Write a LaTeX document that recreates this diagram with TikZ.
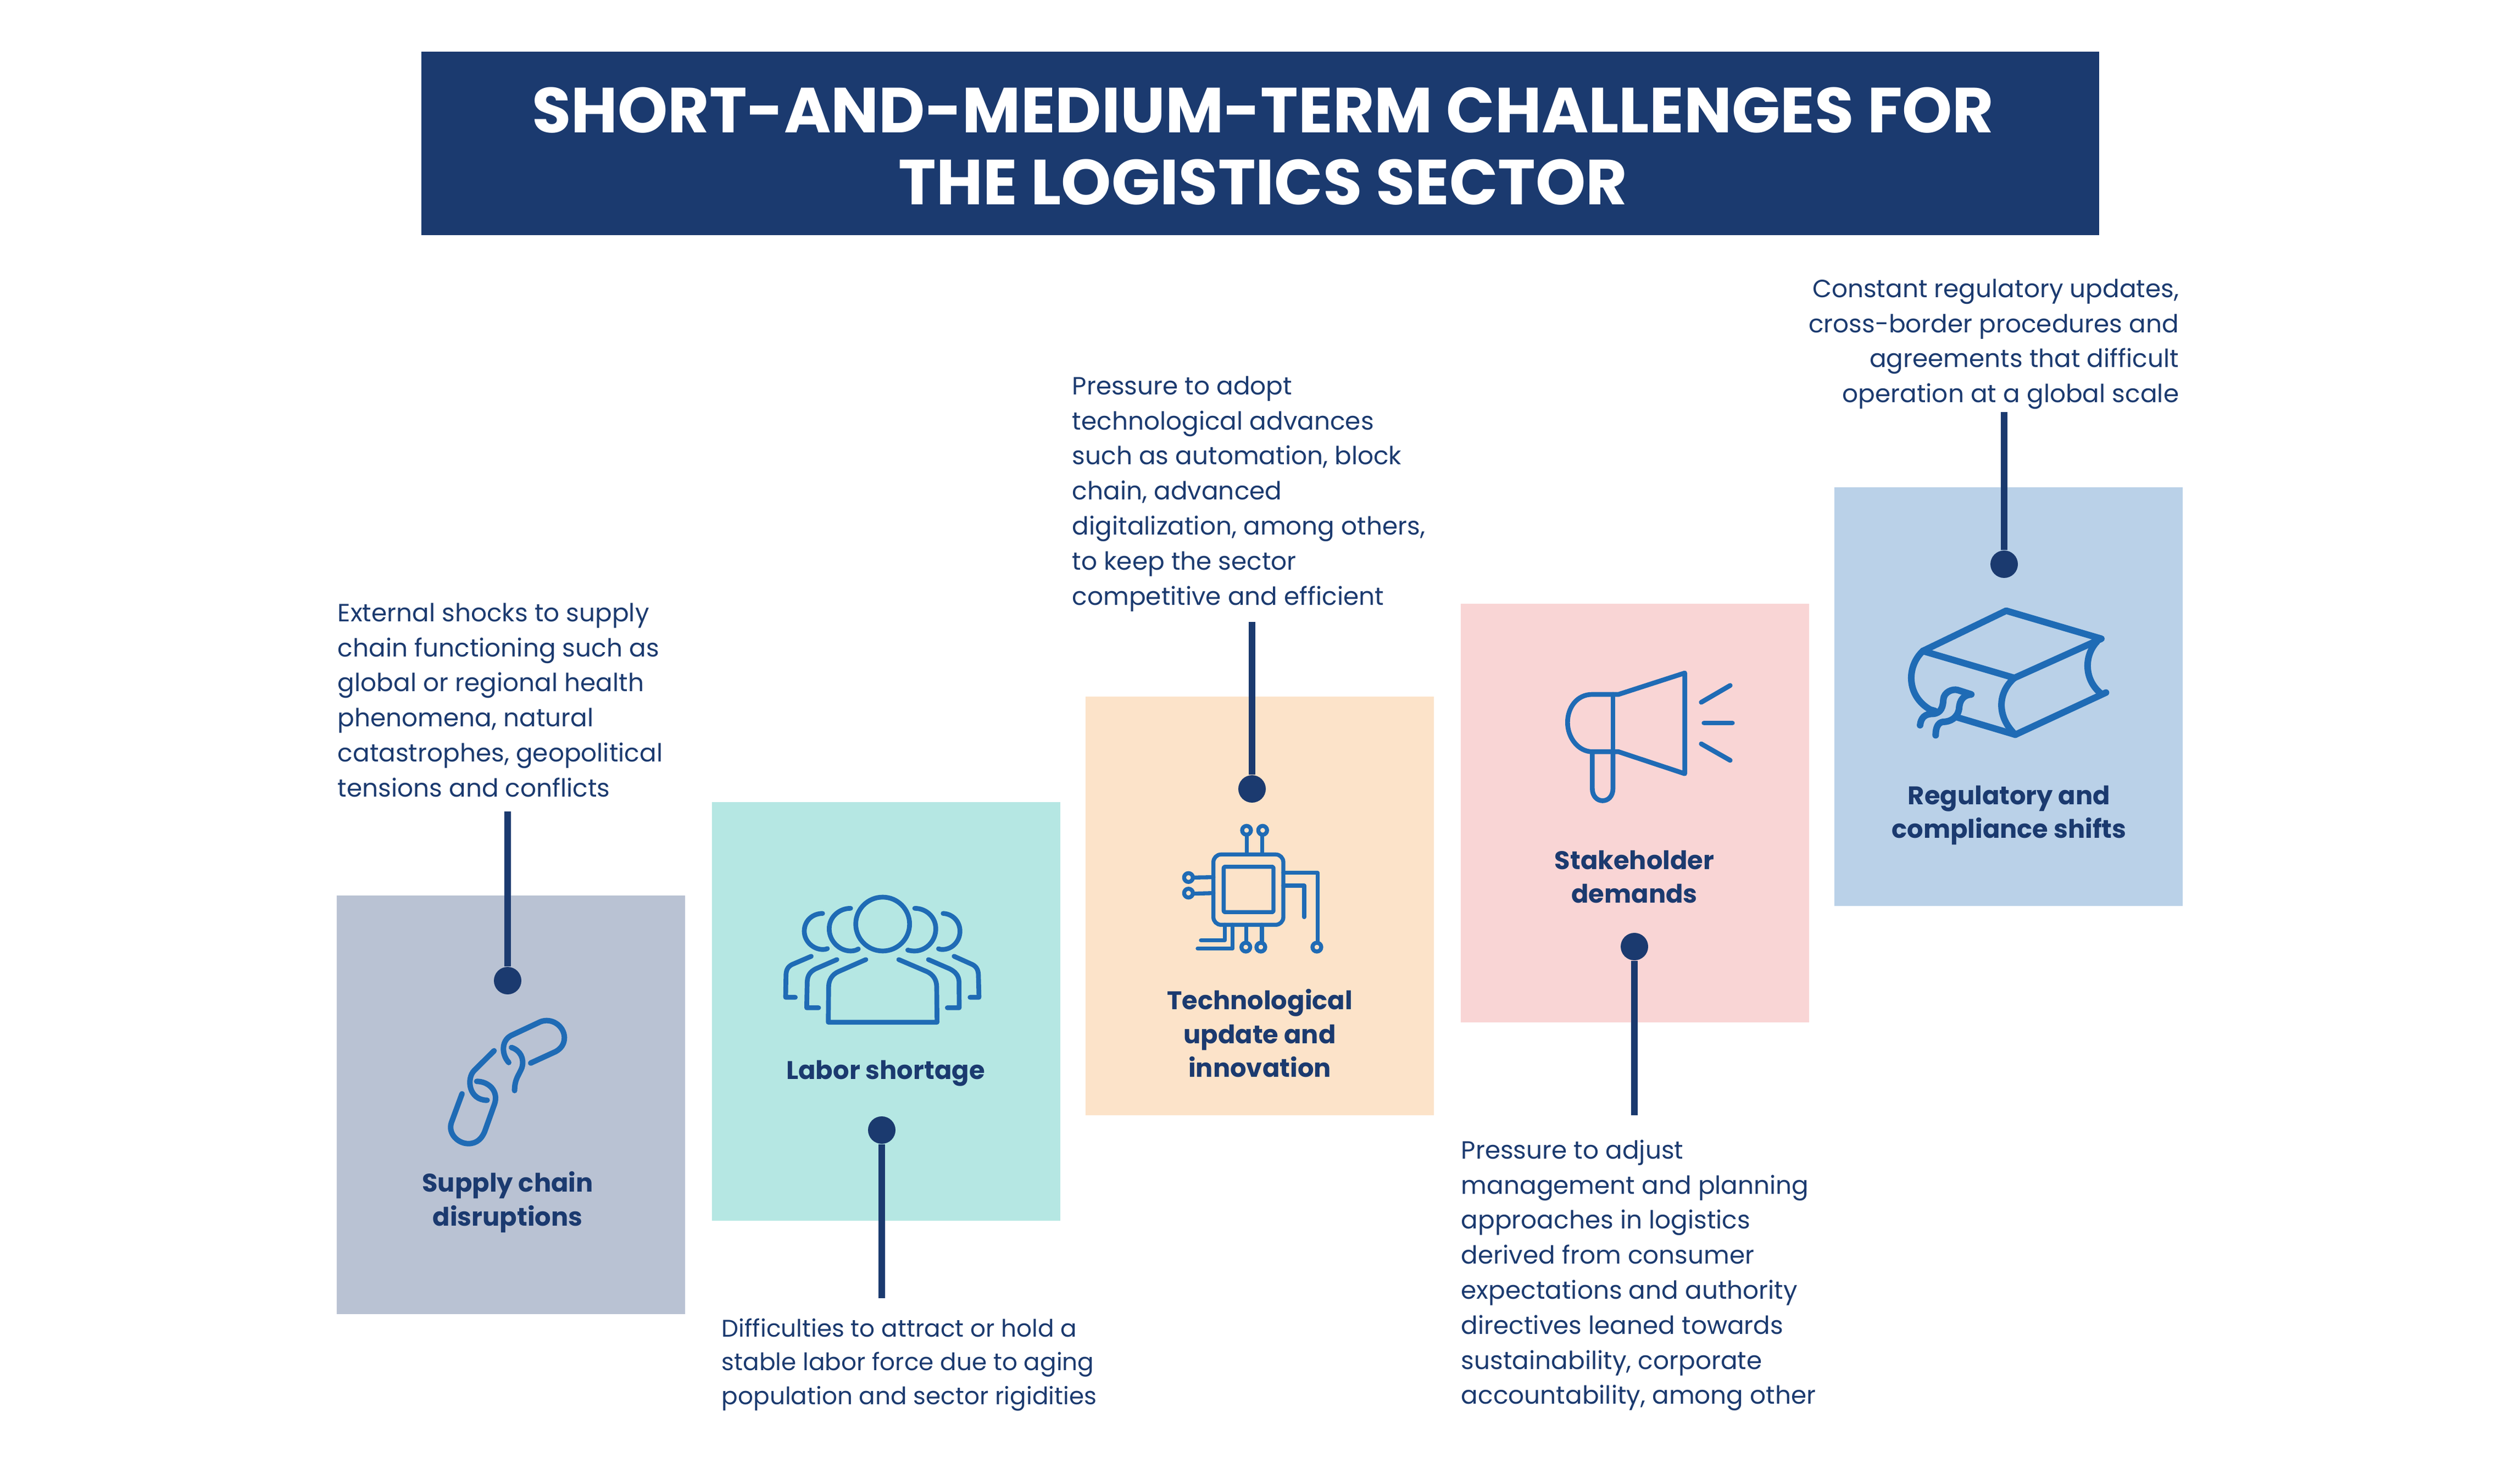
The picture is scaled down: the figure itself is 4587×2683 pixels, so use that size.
\documentclass[tikz,border=0pt]{standalone}
\usepackage{fontspec}
\setmainfont{Poppins}
\usepackage{xcolor}
\usetikzlibrary{positioning}
\definecolor{navy}{HTML}{1B3A6F}
\definecolor{iconblue}{HTML}{1F6BB5}
\definecolor{greybox}{HTML}{B9C2D3}
\definecolor{tealbox}{HTML}{B5E7E3}
\definecolor{peachbox}{HTML}{FCE3C9}
\definecolor{pinkbox}{HTML}{F9D5D5}
\definecolor{bluebox}{HTML}{BAD1E8}
\tikzset{
  colorbox/.style={minimum width=158.5pt, minimum height=190.5pt, inner sep=0pt, anchor=north west},
  bodytext/.style={text=navy, inner sep=0pt, align=left, anchor=north west, font=\fontsize{11.35}{15.95}\selectfont},
  boldlabel/.style={text=navy, inner sep=0pt, align=center, font=\fontsize{11.6}{15.4}\selectfont\bfseries},
  pindot/.style={circle, fill=navy, inner sep=0pt, minimum size=12.5pt},
  pinline/.style={draw=navy, line width=3pt},
  iconline/.style={draw=iconblue, line cap=round, line join=round}
}
\begin{document}
\begin{tikzpicture}[x=0.25pt, y=-0.25pt]
  \useasboundingbox (0,0) rectangle (4587,2683);
  \path node[fill=navy, anchor=north west, inner sep=0pt,
             minimum width=763.5pt, minimum height=83.5pt] at (766,93) (titlebar) {};
  \node[text=white, align=center, inner sep=0pt,
        font=\fontsize{29}{32.9}\selectfont\bfseries] at (2299,266) (title)
       {SHORT-AND-MEDIUM-TERM CHALLENGES FOR\\THE LOGISTICS SECTOR};

  \path node[colorbox, fill=greybox] at (612,1629) (box1) {};
  \path node[colorbox, fill=tealbox] at (1295,1459) (box2) {};
  \path node[colorbox, fill=peachbox] at (1975,1267) (box3) {};
  \path node[colorbox, fill=pinkbox] at (2658,1098) (box4) {};
  \path node[colorbox, fill=bluebox] at (3338,886) (box5) {};

  \node[boldlabel] at (924,2188) (label1) {Supply chain\\disruptions};
  \node[boldlabel] at (1612,1954) (label2) {Labor shortage};
  \node[boldlabel] at (2293,1881) (label3) {Technological\\update and\\innovation};
  \node[boldlabel] at (2975,1596) (label4) {Stakeholder\\demands};
  \node[boldlabel] at (3657,1484) (label5) {Regulatory and\\compliance shifts};

  \node[bodytext] at (614,1097) (text1) {External shocks to supply\\chain functioning such as\\global or regional health\\phenomena, natural\\catastrophes, geopolitical\\tensions and conflicts};
  \node[bodytext, font=\fontsize{10.95}{15.4}\selectfont] at (1313,2399) (text2) {Difficulties to attract or hold a\\stable labor force due to aging\\population and sector rigidities};
  \node[bodytext] at (1951,684) (text3) {Pressure to adopt\\technological advances\\such as automation, block\\chain, advanced\\digitalization, among others,\\to keep the sector\\competitive and efficient};
  \node[bodytext] at (2659,2074) (text4) {Pressure to adjust\\management and planning\\approaches in logistics\\derived from consumer\\expectations and authority\\directives leaned towards\\sustainability, corporate\\accountability, among other};
  \node[bodytext, align=right, anchor=north east] at (3967,507) (text5) {Constant regulatory updates,\\cross-border procedures and\\agreements that difficult\\operation at a global scale};

  \node[pindot] at (924,1785) (dot1) {};
  \node[pindot] at (1605,2057) (dot2) {};
  \node[pindot] at (2279,1436) (dot3) {};
  \node[pindot] at (2975,1723) (dot4) {};
  \node[pindot] at (3648,1027) (dot5) {};
  \coordinate (end1) at (924,1477);
  \coordinate (end2) at (1605,2363);
  \coordinate (end3) at (2279,1132);
  \coordinate (end4) at (2975,2030);
  \coordinate (end5) at (3648,750);
  \foreach \i in {1,...,5}
    \draw[pinline] (end\i) -- (dot\i);

  \begin{scope}[shift={(780,1820)}, scale=1/3, iconline, line width=2.5pt]
    \draw (183,513) -- (125,670) .. controls (105,730) and (160,785) .. (218,785) .. controls (265,785) and (295,755) .. (310,710) -- (360,570) .. controls (385,500) and (330,445) .. (263,445);
    \draw (358,278) -- (250,385) .. controls (205,430) and (220,548) .. (320,548);
    \draw (438,342) .. controls (400,300) and (395,225) .. (450,195) -- (610,120) .. controls (670,95) and (740,140) .. (742,205) .. controls (742,240) and (725,265) .. (695,282) -- (558,345);
    \draw (453,260) .. controls (500,275) and (525,320) .. (510,370) .. controls (495,410) and (470,430) .. (470,495);
  \end{scope}

  \begin{scope}[shift={(1400,1600)}, scale=1/3, iconline, line width=2.17pt]
    \draw (620,246) circle[radius=147];
    \draw (528,440) -- (380,505) .. controls (345,520) and (325,550) .. (325,590) -- (323,782) -- (917,782) -- (915,590) .. controls (915,550) and (895,520) .. (860,505) -- (708,440);
    \draw (445,160) .. controls (385,160) and (328,205) .. (328,272) .. controls (328,340) and (385,393) .. (445,393) .. controls (460,393) and (475,390) .. (487,382);
    \draw (795,160) .. controls (855,160) and (910,205) .. (910,272) .. controls (910,340) and (855,393) .. (795,393) .. controls (785,393) and (770,392) .. (757,388);
    \draw (292,188) .. controls (240,188) and (192,225) .. (192,285) .. controls (192,340) and (240,385) .. (295,385) .. controls (305,385) and (312,383) .. (318,380);
    \draw (950,188) .. controls (1000,190) and (1042,230) .. (1042,285) .. controls (1042,340) and (1000,385) .. (945,385) .. controls (940,385) and (932,384) .. (925,381);
    \draw (370,440) -- (255,490) .. controls (225,505) and (210,525) .. (208,560) -- (205,703) -- (270,703);
    \draw (870,440) -- (985,490) .. controls (1015,505) and (1035,525) .. (1037,560) -- (1038,703) -- (973,703);
    \draw (230,422) -- (125,467) .. controls (100,480) and (92,500) .. (92,530) -- (90,646) -- (143,646);
    \draw (1010,422) -- (1110,467) .. controls (1135,480) and (1143,500) .. (1143,530) -- (1146,646) -- (1097,646);
  \end{scope}

  \begin{scope}[shift={(2130,1480)}, scale=1/3, iconline, line width=1.83pt]
    \draw[rounded corners=3.5pt] (236,226) rectangle (618,610);
    \draw[rounded corners=0.6pt] (292,293) rectangle (564,541);
    \foreach \px/\py in {417/94,505/94,100/352,100/437,801/732,413/732,495/732}
      \draw (\px,\py) circle[radius=24];
    \draw (418,226) -- (418,118);
    \draw (503,226) -- (503,118);
    \draw (236,350) -- (124,352);
    \draw (236,437) -- (124,440);
    \draw (618,326) -- (805,326) -- (805,708);
    \draw (618,396) -- (732,396) -- (732,568);
    \draw (298,610) -- (298,695) -- (168,695);
    \draw (341,610) -- (341,740) -- (150,740);
    \draw (416,610) -- (416,708);
    \draw (501,610) -- (501,708);
  \end{scope}

  \begin{scope}[shift={(2820,1200)}, scale=1/3, iconline, line width=2.17pt]
    \draw (740,75) -- (378,192) -- (235,192) .. controls (150,192) and (100,265) .. (100,345) .. controls (100,430) and (160,505) .. (235,505) -- (378,505) -- (740,625) -- cycle;
    \draw (348,192) -- (348,505);
    \draw (235,505) -- (235,705) .. controls (235,795) and (348,795) .. (348,705) -- (348,505);
    \draw (830,235) -- (988,143);
    \draw (845,348) -- (1000,348);
    \draw (830,462) -- (988,552);
  \end{scope}

  \begin{scope}[shift={(3450,1090)}, scale=1/3, iconline, line width=3pt]
    \draw (150,285) -- (605,65) -- (1125,218) -- (650,432) -- cycle;
    \draw (150,285) .. controls (60,370) and (60,530) .. (190,605) -- (215,612);
    \draw (650,432) .. controls (560,510) and (550,640) .. (655,742);
    \draw (340,648) -- (655,742) -- (1150,512);
    \draw (1100,235) .. controls (1030,310) and (1030,440) .. (1120,515);
    \draw (135,690) .. controls (140,650) and (160,628) .. (205,628) .. controls (250,625) and (260,590) .. (262,550) .. controls (265,510) and (310,490) .. (340,498) -- (415,522) .. controls (375,525) and (350,550) .. (348,600) .. controls (340,650) and (300,672) .. (260,672) .. controls (235,675) and (220,700) .. (220,745);
  \end{scope}
\end{tikzpicture}
\end{document}
